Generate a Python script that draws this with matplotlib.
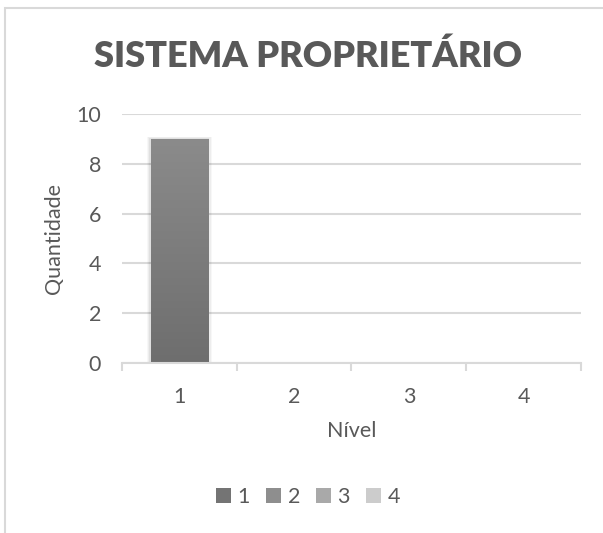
import numpy as np
import matplotlib
matplotlib.use("Agg")
import matplotlib.pyplot as plt
from matplotlib.patches import Patch, Rectangle
from matplotlib.colors import LinearSegmentedColormap

plt.rcParams['font.family'] = ['Lato', 'DejaVu Sans']

titulo = "SISTEMA PROPRIETÁRIO"
niveis = ['1', '2', '3', '4']
quantidades = [9, 0, 0, 0]
y_ticks = [0, 2, 4, 6, 8, 10]

# gradient ends (top, bottom) for each level
cores = [('#8b8b8b', '#6e6e6e'),
         ('#a0a0a0', '#868686'),
         ('#b8b8b8', '#a0a0a0'),
         ('#d6d6d6', '#c2c2c2')]
cores_legenda = ['#747474', '#8e8e8e', '#a9a9a9', '#cccccc']

texto = '#595959'
grade = '#d9d9d9'
fs = 15.5

fig = plt.figure(figsize=(6.03, 5.33), dpi=100)
ax = fig.add_axes([0.2023, 0.3189, 0.7612, 0.4672])

x = np.arange(1, len(niveis) + 1)
barras = ax.bar(x, quantidades, width=0.5, color='none', zorder=3)

# fill each bar with a vertical gradient clipped to its rectangle
for b, (c_top, c_bot) in zip(barras, cores):
    if b.get_height() <= 0:
        continue
    cmap = LinearSegmentedColormap.from_list('g', [c_bot, c_top])
    x0, y0 = b.get_x(), b.get_y()
    w, h = b.get_width(), b.get_height()
    grad = np.linspace(0, 1, 256).reshape(-1, 1)
    # soft shadow around the bar
    for k, a in enumerate([0.05, 0.04, 0.03]):
        ax.add_patch(Rectangle((x0 - 0.012 * (k + 1), y0), w + 0.024 * (k + 1),
                               h + 0.03 * (k + 1), color='black', alpha=a,
                               lw=0, zorder=2))
    im = ax.imshow(grad, cmap=cmap, origin='lower', aspect='auto',
                   extent=(x0, x0 + w, y0, y0 + h), zorder=3)
    im.set_clip_path(b)

ax.set_xlim(0.5, len(niveis) + 0.5)
ax.set_ylim(0, 10)
ax.set_yticks(y_ticks)
ax.set_xticks(x)
ax.set_xticklabels(niveis)
ax.set_xticks(np.arange(0.5, len(niveis) + 1), minor=True)

ax.grid(axis='y', color=grade, lw=1.5, zorder=0)
ax.set_axisbelow(True)
for s in ['top', 'right', 'left']:
    ax.spines[s].set_visible(False)
ax.spines['bottom'].set_color(grade)
ax.spines['bottom'].set_linewidth(1.5)
ax.spines['bottom'].set_zorder(4)

ax.tick_params(axis='y', length=0, pad=15, labelsize=fs, labelcolor=texto)
ax.tick_params(axis='x', which='major', length=0, pad=17, labelsize=fs,
               labelcolor=texto)
ax.tick_params(axis='x', which='minor', length=6, width=1.5, color=grade,
               direction='out')

ax.set_xlabel('Nível', fontsize=fs, color=texto, labelpad=10)
ax.set_ylabel('Quantidade', fontsize=fs, color=texto, labelpad=9)

fig.text(0.511, 0.895, titulo, ha='center', va='center', fontsize=26,
         fontweight='heavy', color=texto)

handles = [Patch(facecolor=c, edgecolor='none') for c in cores_legenda]
fig.legend(handles, niveis, loc='center', bbox_to_anchor=(0.511, 0.0675),
           ncol=4, frameon=False, fontsize=fs, labelcolor=texto,
           handlelength=0.7, handleheight=0.7, handletextpad=0.3,
           columnspacing=0.75)

# chart border (extends past right and bottom edges)
fig.patches.append(Rectangle((5 / 603, -0.1), 1.2, 1.1 - 8.5 / 533,
                             transform=fig.transFigure, fill=False,
                             edgecolor=grade, lw=1.5))

fig.savefig('out.png', dpi=100)
